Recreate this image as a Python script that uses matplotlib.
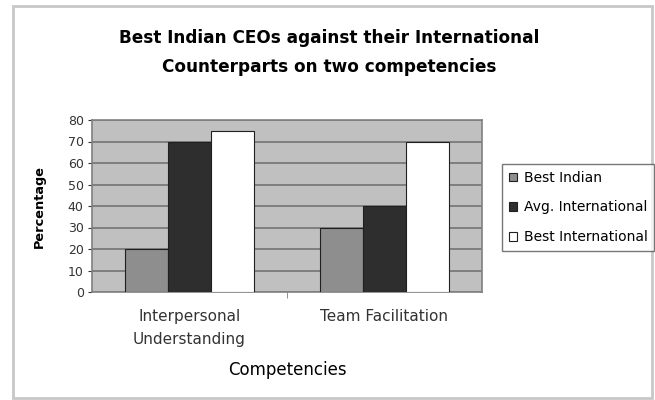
import numpy as np
import matplotlib.pyplot as plt
from matplotlib.patches import Rectangle

plt.rcParams['font.family'] = ['DejaVu Sans']

competencies = ['Interpersonal\nUnderstanding', 'Team Facilitation']
series_names = ['Best Indian', 'Avg. International', 'Best International']
best_indian = [20, 30]
avg_international = [70, 40]
best_international = [75, 70]
series_colors = ['#8e8e8e', '#2e2e2e', '#ffffff']
y_ticks = list(range(0, 81, 10))

fig = plt.figure(figsize=(6.55, 4.0), dpi=100)
fig.patch.set_facecolor('white')

# outer chart border
fig.add_artist(Rectangle((13 / 655, 2 / 400), 639 / 655, 392 / 400,
                         transform=fig.transFigure, fill=False,
                         edgecolor='#c8c8c8', linewidth=2))

ax = fig.add_axes([92 / 655, 108 / 400, 390 / 655, 172 / 400])
ax.set_facecolor('#c0c0c0')

x = np.arange(len(competencies))
width = 0.222
values = [best_indian, avg_international, best_international]
for i, (vals, name, color) in enumerate(zip(values, series_names, series_colors)):
    ax.bar(x + (i - 1) * width, vals, width, color=color, edgecolor='#202020',
           linewidth=0.8, label=name, zorder=3)

ax.set_xlim(-0.5, 1.5)
ax.set_ylim(0, 80)
ax.set_yticks(y_ticks)
ax.yaxis.grid(True, color='#7a7a7a', linewidth=1.3, zorder=1)
ax.set_axisbelow(True)
for s in ax.spines.values():
    s.set_color('#808080')
    s.set_linewidth(1.2)

ax.set_xticks(x)
ax.set_xticklabels(competencies, fontsize=11, color='#333333', linespacing=1.7)
ax.tick_params(axis='x', length=0, pad=12)
ax.set_xticks([0.5], minor=True)
ax.tick_params(axis='x', which='minor', length=4, color='#808080')
ax.tick_params(axis='y', labelsize=9, colors='#333333', length=3, pad=3)

ax.set_ylabel('Percentage', fontsize=9.3, fontweight='bold', labelpad=16)
ax.set_xlabel('Competencies', fontsize=12, labelpad=10)

fig.text(0.503, 0.905, 'Best Indian CEOs against their International',
         ha='center', va='center', fontsize=12.2, fontweight='bold')
fig.text(0.503, 0.833, 'Counterparts on two competencies',
         ha='center', va='center', fontsize=12.2, fontweight='bold')

leg = fig.legend(loc='upper left', bbox_to_anchor=(502 / 655, 1 - 164 / 400),
                 fontsize=10, frameon=True, fancybox=False, handlelength=0.6,
                 handleheight=0.6, handletextpad=0.45, labelspacing=1.12,
                 borderpad=0.5, borderaxespad=0)
leg.get_frame().set_edgecolor('#555555')
leg.get_frame().set_linewidth(1.0)

fig.savefig('out.png', dpi=100)
